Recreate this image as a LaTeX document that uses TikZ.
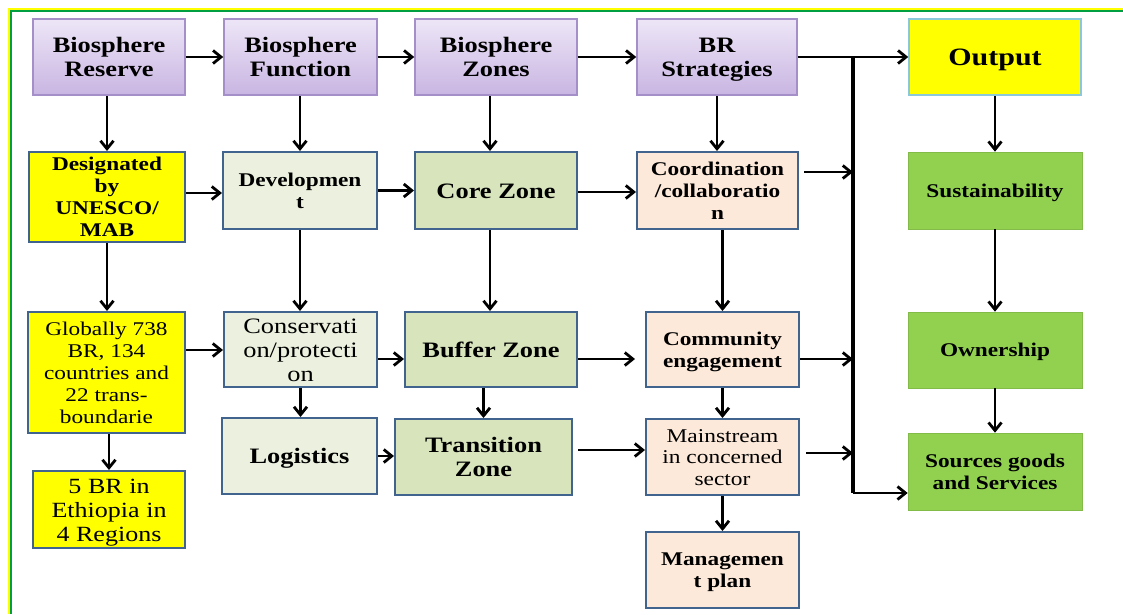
\documentclass[tikz,border=0pt]{standalone}
\usepackage{fontspec}
\setmainfont{Liberation Serif}[FakeStretch=1.2]
\usetikzlibrary{arrows.meta,calc}
\definecolor{pTop}{HTML}{EDE6F7}
\definecolor{pBot}{HTML}{C9B5E2}
\definecolor{pBorder}{HTML}{A48FC8}
\definecolor{bBorder}{HTML}{41648F}
\definecolor{oBorder}{HTML}{8CC8DC}
\definecolor{grayGreen}{HTML}{EBF1DE}
\definecolor{zoneGreen}{HTML}{D7E4BC}
\definecolor{peach}{HTML}{FDE9D9}
\definecolor{leaf}{HTML}{92D050}
\definecolor{frameYellow}{HTML}{FFFF00}
\definecolor{frameGreen}{HTML}{00A040}
\newcommand\fA{\fontsize{22}{24}\selectfont\bfseries}
\newcommand\fB{\fontsize{19.4}{22}\selectfont\bfseries}
\newcommand\fO{\fontsize{25}{28}\selectfont\bfseries}
% top strut: height 0.96em; bottom strut: depth 0.25em
\newcommand\toph{\rule{0pt}{0.96em}}
\newcommand\botd{\rule[-0.25em]{0pt}{0.25em}}
\tikzset{
  box/.style={rectangle, inner sep=0pt, align=center, line width=2pt},
  purplebox/.style={box, top color=pTop, bottom color=pBot, draw=pBorder, line width=1.5pt, font=\fA},
  yellowbox/.style={box, fill=frameYellow, draw=bBorder},
  outbox/.style={box, fill=frameYellow, draw=oBorder, line width=1.5pt, font=\fO},
  ggbox/.style={box, fill=grayGreen, draw=bBorder},
  zonebox/.style={box, fill=zoneGreen, draw=bBorder, font=\fA},
  peachbox/.style={box, fill=peach, draw=bBorder},
  leafbox/.style={box, fill=leaf, draw=leaf!90!black, line width=0.6pt, font=\fB},
  arr/.style={line width=2.8pt, -{Straight Barb[length=8pt,width=13pt]}},
  busline/.style={line width=3.2pt},
  frameY/.style={draw=frameYellow, line width=2pt},
  frameG/.style={draw=frameGreen, line width=2pt}
}
\begin{document}
\begin{tikzpicture}[x=1pt,y=-1pt]
\useasboundingbox (0,0) rectangle (1123,614);
\fill[white] (0,0) rectangle (1123,614);
% frame
\draw[frameY] (9,614) -- (9,9) -- (1123,9);
\draw[frameG] (11,614) -- (11,11) -- (1123,11);

% row 1
\node[purplebox, minimum width=152pt, minimum height=76pt] (br) at (109,57) {\toph Biosphere\\Reserve\botd};
\node[purplebox, minimum width=153pt, minimum height=76pt] (bf) at (300.5,57) {\toph Biosphere\\Function\botd};
\node[purplebox, minimum width=162pt, minimum height=76pt] (bz) at (496,57) {\toph Biosphere\\Zones\botd};
\node[purplebox, minimum width=160pt, minimum height=76pt] (brs) at (717,57) {\toph BR\\Strategies\botd};
\node[outbox, minimum width=172pt, minimum height=76pt] (out) at (995,57) {\toph Output\botd};

% row 2
\node[yellowbox, font=\fB, minimum width=156pt, minimum height=90pt] (des) at (107,197) {\toph Designated\\by\\UNESCO/\\MAB\botd};
\node[ggbox, font=\fB, minimum width=154pt, minimum height=77pt] (dev) at (300,190.5) {\toph Developmen\\t\botd};
\node[zonebox, minimum width=162pt, minimum height=77pt] (core) at (496,190.5) {\toph Core Zone\botd};
\node[peachbox, font=\fB, minimum width=161pt, minimum height=77pt] (coord) at (717.5,190.5) {\toph Coordination\\/collaboratio\\n\botd};
\node[leafbox, minimum width=174pt, minimum height=77pt] (sust) at (995,190.5) {\toph Sustainability\botd};

% row 3
\node[yellowbox, font=\fontsize{19.4}{22}\selectfont, minimum width=157pt, minimum height=121pt] (glob) at (106.5,372.5) {\toph Globally 738\\BR, 134\\countries and\\22 trans-\\boundarie\botd};
\node[ggbox, font=\fontsize{22}{24}\selectfont, minimum width=153pt, minimum height=75pt] (cons) at (300.5,349.5) {\toph Conservati\\on/protecti\\on\botd};
\node[zonebox, minimum width=172pt, minimum height=75pt] (buf) at (491,349.5) {\toph Buffer Zone\botd};
\node[peachbox, font=\fB, minimum width=153pt, minimum height=75pt] (comm) at (722.5,349.5) {\toph Community\\engagement\botd};
\node[leafbox, minimum width=174pt, minimum height=76pt] (own) at (995,350) {\toph Ownership\botd};

% row 4
\node[yellowbox, font=\fontsize{21.7}{24}\selectfont, minimum width=152pt, minimum height=77pt] (five) at (109,509.5) {\toph 5 BR in\\Ethiopia in\\4 Regions\botd};
\node[ggbox, font=\fA, minimum width=155pt, minimum height=76pt] (log) at (299.5,456) {\toph Logistics\botd};
\node[zonebox, minimum width=177pt, minimum height=76pt] (trans) at (483.5,457) {\toph Transition\\Zone\botd};
\node[peachbox, font=\fontsize{19.5}{21.7}\selectfont, minimum width=153pt, minimum height=76pt] (main) at (722.5,457) {\toph Mainstream\\in concerned\\sector\botd};
\node[leafbox, minimum width=174pt, minimum height=77pt] (src) at (995,471.5) {\toph Sources goods\\and Services\botd};

% row 5
\node[peachbox, font=\fB, minimum width=153pt, minimum height=76pt] (mgmt) at (722.5,570) {\toph Managemen\\t plan\botd};

% bus
\coordinate (bustop) at (853,57);
\coordinate (busbot) at (853,493);

% top row arrows
\draw[arr] (br) -- (bf);
\draw[arr] (bf) -- (bz);
\draw[arr] (bz) -- (brs);
\draw[arr] (brs.east) -- (out.west);
\draw[busline] (bustop) -- (busbot);
\draw[arr] (busbot) -- (busbot -| src.west);

% column 1
\draw[arr] (des.north |- br.south) -- (des.north);
\draw[arr] (des.south) -- (des.south |- glob.north);
\draw[arr] (five.north |- glob.south) -- (five.north);
% column 2
\draw[arr] (dev.north |- bf.south) -- (dev.north);
\draw[arr] (dev.south) -- (dev.south |- cons.north);
\draw[arr] (cons.south) -- (cons.south |- log.north);
% column 3
\draw[arr] ([xshift=-6pt]bz.south) -- ([xshift=-6pt]bz.south |- core.north);
\draw[arr] ([xshift=-6pt]core.south) -- ([xshift=-6pt]core.south |- buf.north);
\draw[arr] (trans.north |- buf.south) -- (trans.north);
% column 4
\draw[arr] (brs.south) -- (brs.south |- coord.north);
\draw[arr] (comm.north |- coord.south) -- (comm.north);
\draw[arr] (comm.south) -- (main.north);
\draw[arr] (main.south) -- (mgmt.north);
% column 5
\draw[arr] (out.south) -- (sust.north);
\draw[arr] (sust.south) -- (own.north);
\draw[arr] (own.south) -- (src.north);

% horizontals
\draw[arr] ([yshift=4pt]des.east) -- ([yshift=4pt]des.east -| dev.west);
\draw[arr] (dev) -- (core);
\draw[arr] ([yshift=-1.5pt]core.east) -- ([yshift=-1.5pt]core.east -| coord.west);
\draw[arr, shorten <=5pt] ([yshift=18.5pt]coord.east) -- ([yshift=18.5pt]coord.east -| bustop);
\draw[arr] ([yshift=22.5pt]glob.east) -- ([yshift=22.5pt]glob.east -| cons.west);
\draw[arr] ([yshift=-9.5pt]cons.east) -- ([yshift=-9.5pt]cons.east -| buf.west);
\draw[arr, shorten >=10pt] ([yshift=-9.5pt]buf.east) -- ([yshift=-9.5pt]buf.east -| comm.west);
\draw[arr] ([yshift=-9.5pt]comm.east) -- ([yshift=-9.5pt]comm.east -| bustop);
\draw[arr] (log) -- (log -| trans.west);
\draw[arr, shorten <=5pt] ([yshift=7pt]trans.east) -- ([yshift=7pt]trans.east -| main.west);
\draw[arr, shorten <=6pt] ([yshift=4pt]main.east) -- ([yshift=4pt]main.east -| bustop);
\end{tikzpicture}
\end{document}
